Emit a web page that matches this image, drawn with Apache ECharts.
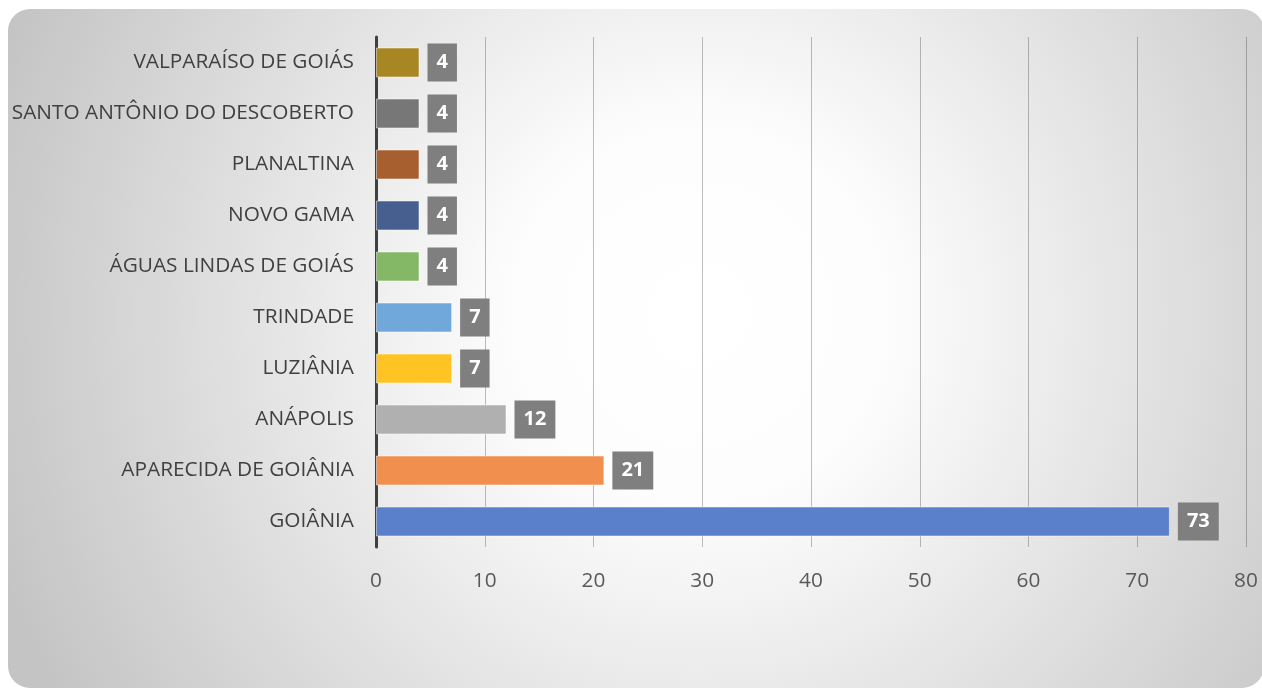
<!DOCTYPE html>
<html>
<head>
<meta charset="utf-8">
<script src="https://cdn.jsdelivr.net/npm/echarts@6/dist/echarts.min.js"></script>
<style>
  html, body { margin: 0; padding: 0; background: #fff; }
  #chart { width: 1262px; height: 688px; }
</style>
</head>
<body>
<div id="chart"></div>
<script>
  // municípios, de baixo para cima
  var cidades = ['GOIÂNIA', 'APARECIDA DE GOIÂNIA', 'ANÁPOLIS', 'LUZIÂNIA', 'TRINDADE',
    'ÁGUAS LINDAS DE GOIÁS', 'NOVO GAMA', 'PLANALTINA', 'SANTO ANTÔNIO DO DESCOBERTO', 'VALPARAÍSO DE GOIÁS'];
  var casos = [73, 21, 12, 7, 7, 4, 4, 4, 4, 4];
  var cores = ['#5a80cc', '#f08f4e', '#b0b0b0', '#ffc423', '#70a8dc',
    '#84b866', '#465f8f', '#a85f30', '#777777', '#a88624'];
  var ticksX = [0, 10, 20, 30, 40, 50, 60, 70, 80];

  var chart = echarts.init(document.getElementById('chart'));

  var dados = casos.map(function (v, i) {
    return { value: v, itemStyle: { color: cores[i] } };
  });

  chart.setOption({
    animation: false,
    graphic: [{
      type: 'rect',
      z: -10,
      silent: true,
      shape: { x: 8, y: 9, width: 1256, height: 679, r: 22 },
      style: {
        fill: new echarts.graphic.RadialGradient(0.55, 0.45, 1.1, [
          { offset: 0, color: '#ffffff' },
          { offset: 0.25, color: '#fdfdfd' },
          { offset: 1, color: '#c4c4c4' }
        ])
      }
    }],
    grid: { left: 376, right: 16, top: 37, bottom: 141, containLabel: false },
    xAxis: {
      type: 'value',
      min: ticksX[0],
      max: ticksX[ticksX.length - 1],
      interval: 10,
      axisLine: { show: false },
      axisTick: { show: false },
      axisLabel: { color: '#595959', fontSize: 20.8, fontFamily: 'Open Sans', margin: 24 },
      splitLine: { lineStyle: { color: 'rgba(0,0,0,0.25)', width: 1 } }
    },
    yAxis: {
      type: 'category',
      data: cidades,
      axisLine: { lineStyle: { color: '#404040', width: 3 } },
      axisTick: { show: false },
      axisLabel: { color: '#404040', fontSize: 20.8, fontFamily: 'Open Sans', margin: 22 }
    },
    series: [{
      type: 'bar',
      data: dados,
      barWidth: 30,
      itemStyle: { borderColor: 'rgba(255,255,255,0.5)', borderWidth: 1 },
      label: {
        show: true,
        position: 'right',
        distance: 8,
        color: '#fff',
        fontWeight: 'bold',
        fontSize: 20,
        fontFamily: 'Open Sans',
        backgroundColor: '#7f7f7f',
        padding: [9, 9],
        lineHeight: 20
      }
    }]
  });
</script>
</body>
</html>
